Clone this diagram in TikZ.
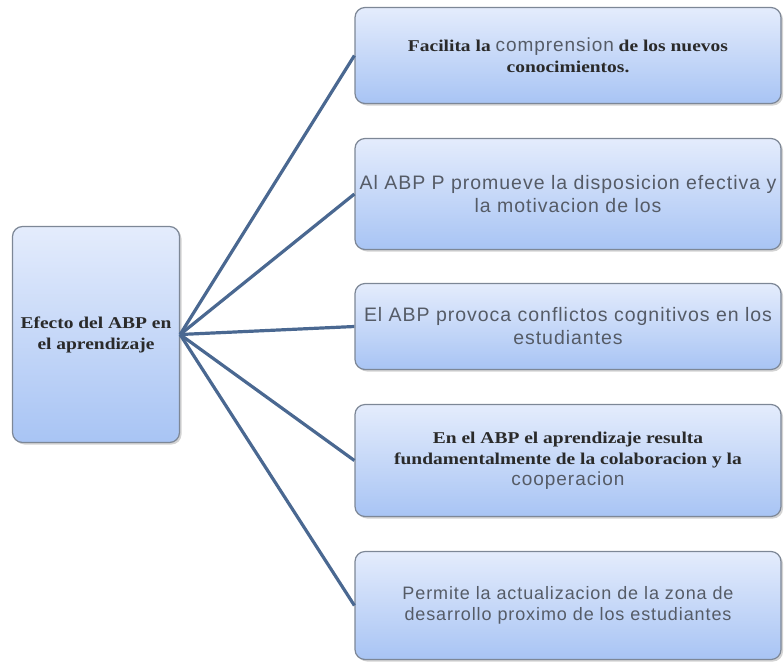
\documentclass[tikz,border=0pt]{standalone}
\usepackage{fontspec}
\setmainfont{Liberation Serif}
\setsansfont{Liberation Sans}
\newfontfamily\negrita{Liberation Serif Bold}[FakeStretch=1.18]
\newfontfamily\ligera{Liberation Sans}[LetterSpace=5]
\usetikzlibrary{shadows}
\definecolor{boxtop}{HTML}{E4ECFC}
\definecolor{boxbot}{HTML}{A8C4F4}
\definecolor{boxline}{HTML}{7D8796}
\definecolor{linkblue}{HTML}{4A6891}
\definecolor{txt}{HTML}{2A2A2A}
\definecolor{txtgris}{HTML}{555B66}
\newcommand\suave[1]{{\ligera\color{txtgris}\fontsize{19}{22}\selectfont #1}}

\begin{document}
\begin{tikzpicture}[x=1pt,y=-1pt,
    caja/.style={draw=boxline,line width=1.2pt,rounded corners=10pt,top color=boxtop,bottom color=boxbot,
        drop shadow={shadow xshift=2pt,shadow yshift=-2pt,opacity=0.35},align=center,text=txt,inner sep=1pt},
    idea/.style={caja,minimum width=426pt},
    link/.style={draw=linkblue,line width=3.2pt},
    negr/.style={font=\negrita\fontsize{16.5}{21}\selectfont},
    fina/.style={font=\ligera\fontsize{19.5}{23}\selectfont,text=txtgris}]
            \useasboundingbox (0,0) rectangle (784,662);

            \node[caja,minimum width=167pt,minimum height=216pt,negr] (efecto) at (96,334.5)
                {Efecto del ABP en\\el aprendizaje};

            \node[idea,minimum height=96pt,negr] (b1) at (568,55.5)
                {Facilita la \suave{comprension} de los nuevos\\conocimientos.};
            \node[idea,minimum height=111pt,fina] (b2) at (568,194)
                {Al ABP P promueve la disposicion efectiva y\\la motivacion de los};
            \node[idea,minimum height=86pt,fina] (b3) at (568,326.5)
                {El ABP provoca conflictos cognitivos en los\\estudiantes};
            \node[idea,minimum height=112pt,negr] (b4) at (568,460.5)
                {En el ABP el aprendizaje resulta\\fundamentalmente de la colaboracion y la\\\suave{cooperacion}};
            \node[idea,minimum height=108pt,fina,font=\ligera\fontsize{18}{21}\selectfont] (b5) at (568,605.5)
                {Permite la actualizacion de la zona de\\desarrollo proximo de los estudiantes};

            \foreach \b in {b1,b2,b3,b4,b5}
                \draw[link] (efecto.east) -- (\b.west);
        \end{tikzpicture}
\end{document}
